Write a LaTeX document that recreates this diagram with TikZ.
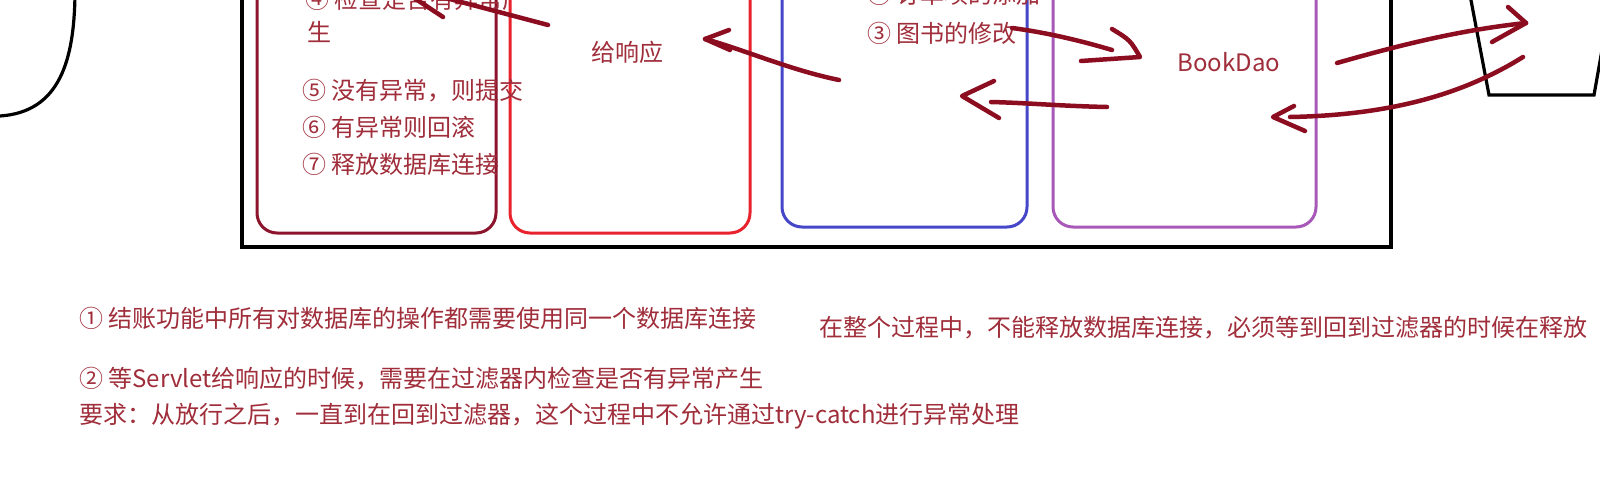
\documentclass[tikz,border=0pt]{standalone}
\usepackage{fontspec}
\setmainfont{Noto Sans CJK SC}
\definecolor{txt}{RGB}{160,45,58}
\definecolor{ink}{RGB}{140,12,32}
\definecolor{cA}{RGB}{140,20,45}
\definecolor{cB}{RGB}{232,35,45}
\definecolor{cC}{RGB}{70,70,200}
\definecolor{cD}{RGB}{168,88,184}
\tikzset{
 lbl/.style={anchor=base west, inner sep=0pt, text=txt, font=\fontsize{24}{29}\selectfont},
 clbl/.style={anchor=base, inner sep=0pt, text=txt, font=\fontsize{24}{29}\selectfont},
 col/.style={line width=3pt, rounded corners=20pt},
 arr/.style={draw=ink, line width=4.5pt, line cap=round, line join=round},
 frame/.style={draw=black, line width=3.2pt}
}
\begin{document}
\begin{tikzpicture}[x=1pt,y=-1pt]
\useasboundingbox (0,0) rectangle (1600,490);
\fill[white] (0,0) rectangle (1600,490);
\clip (0,0) rectangle (1600,490);
% left outside shape
\coordinate (lc1) at (75,-5);
\coordinate (lc2) at (0,116);
\draw[frame] (lc1) .. controls (74,60) and (60,112) .. (lc2);
% right outside shape
\coordinate (r1) at (1470,-5);
\coordinate (r2) at (1489,95);
\coordinate (r3) at (1594,95);
\coordinate (r4) at (1602,50);
\draw[frame] (r1) -- (r2) -- (r3) -- (r4);
% big frame
\coordinate (f1) at (242,-10);
\coordinate (f2) at (1391,247);
\draw[frame] (f1) |- (f2) -- (1391,-10);
% columns
\draw[col, draw=cA] (257,-40) rectangle (496,233);
\draw[col, draw=cB] (510,-40) rectangle (750,233);
\draw[col, draw=cC] (782,-40) rectangle (1027,227);
\draw[col, draw=cD] (1053,-40) rectangle (1316,227);
% texts column 1
\node[lbl] (n4) at (305,8) {④ 检查是否有异常产};
\node[lbl] (n4b) at (307,41) {生};
\node[lbl] (n5) at (302,99) {⑤ 没有异常，则提交};
\node[lbl] (n6) at (302,136) {⑥ 有异常则回滚};
\node[lbl] (n7) at (302,173) {⑦ 释放数据库连接};
% column 2
\node[clbl] (resp) at (627,61) {给响应};
% column 3
\node[lbl] (n2) at (867,3) {② 订单项的添加};
\node[lbl] (n3) at (867,42) {③ 图书的修改};
% column 4
\node[clbl] (dao) at (1229,71) {BookDao};
% bottom notes
\node[lbl] (b1) at (79,327) {① 结账功能中所有对数据库的操作都需要使用同一个数据库连接};
\node[lbl] (b5) at (819,336) {在整个过程中，不能释放数据库连接，必须等到回到过滤器的时候在释放};
\node[lbl] (b2) at (79,387) {② 等Servlet给响应的时候，需要在过滤器内检查是否有异常产生};
\node[lbl] (b3) at (79,423) {要求：从放行之后，一直到在回到过滤器，这个过程中不允许通过try-catch进行异常处理};
% arrow A: column 2 -> item 4
\coordinate (aS) at (548,25);
\coordinate (aT) at (393,-16);
\coordinate (aB) at (443,17);
\draw[arr] (aS) -- (aT) -- (aB);
% arrow B: column 3 -> 给响应
\coordinate (bS) at (839,80);
\coordinate (bT) at (705,39);
\draw[arr] (bS) .. controls (790,70) and (745,50) .. (bT);
\draw[arr] (729,30) -- (bT) -- (730,50);
% arrow C: ③ -> BookDao
\coordinate (cS) at (1012,28);
\coordinate (cE) at (1112,50);
\coordinate (cT) at (1140,57);
\draw[arr] (cS) .. controls (1050,33) and (1085,42) .. (cE);
\draw[arr] (1112,29) .. controls (1130,40) .. (cT) -- (1081,61);
% arrow D: BookDao -> column 3
\coordinate (dS) at (1107,107);
\coordinate (dE) at (991,102);
\coordinate (dT) at (962,96);
\draw[arr] (dS) .. controls (1060,106) and (1030,103) .. (dE);
\draw[arr] (994,81) -- (dT) -- (999,118);
% arrow E: BookDao -> right shape
\coordinate (eS) at (1337,63);
\coordinate (eT) at (1526,23);
\draw[arr] (eS) .. controls (1400,45) and (1460,30) .. (eT);
\draw[arr] (1508,7) -- (eT) -- (1492,42);
% arrow F: right shape -> BookDao
\coordinate (gS) at (1523,57);
\coordinate (gE) at (1290,117);
\coordinate (gT) at (1273,117);
\draw[arr] (gS) .. controls (1470,90) and (1400,115) .. (gE);
\draw[arr] (1294,106) -- (gT) -- (1305,131);
\end{tikzpicture}
\end{document}
